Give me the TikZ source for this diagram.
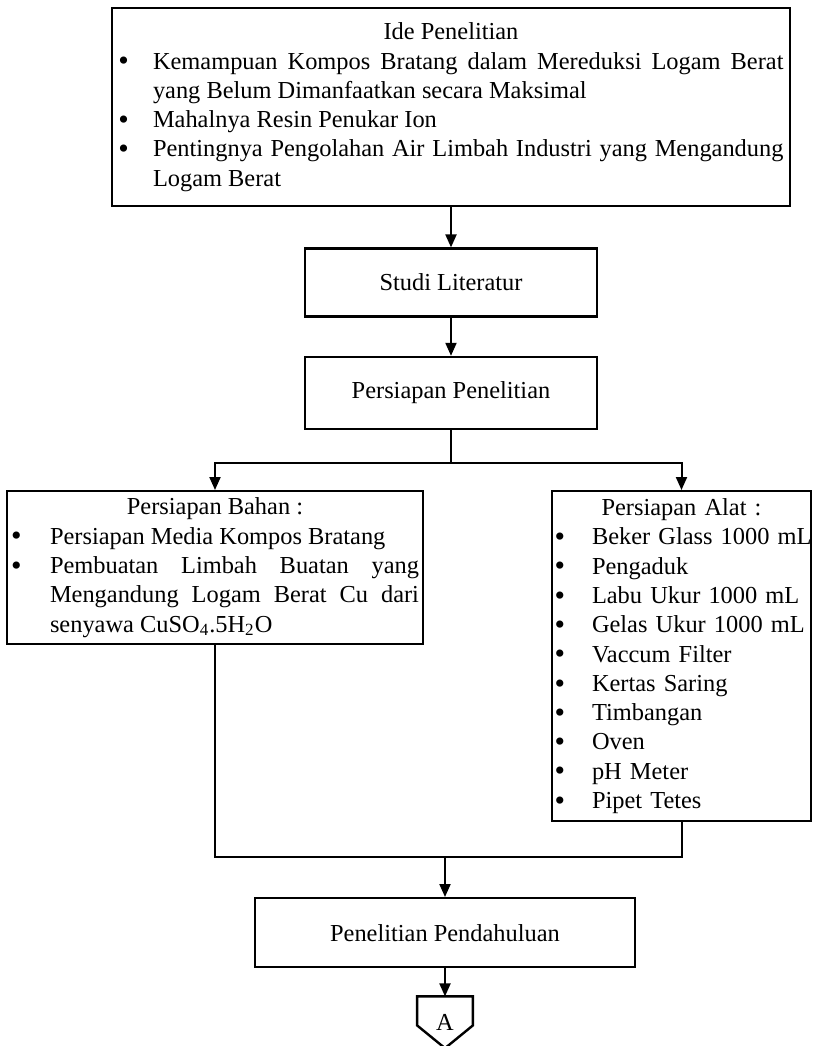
\documentclass[tikz,border=0pt]{standalone}
\usepackage{fontspec}
\setmainfont{Liberation Serif}
\usepackage{tikz}
\usetikzlibrary{positioning,arrows.meta}
\tikzstyle{box}=[draw, line width=1.2pt, font=\fontsize{12.2pt}{14.65pt}\selectfont]
\tikzstyle{conn}=[line width=1pt]
\tikzstyle{arr}=[conn, -{Triangle[length=6.5pt,width=5.5pt]}]

\setlength{\parindent}{0pt}
\hyphenpenalty=10000
\exhyphenpenalty=10000
\tolerance=9999
\newlength{\butirindent}
\newcommand{\butir}[1]{\par\noindent\hangindent=\butirindent\hangafter=1\makebox[\butirindent][l]{\raisebox{-0.15ex}{\fontsize{15pt}{15pt}\selectfont\textbullet}}#1\par}

\begin{document}
\begin{tikzpicture}[x=1pt,y=1pt]
    \useasboundingbox (0,0) rectangle (406.5,-523);

    \node[box, text width=332.5pt, inner xsep=3.25pt, minimum height=99pt, align=justify, anchor=north] (ide) at (225.5,-3.5) {%
        \setlength{\butirindent}{17.25pt}%
        {\centering Ide Penelitian\par}
        \butir{Kemampuan Kompos Bratang dalam Mereduksi Logam Berat yang Belum Dimanfaatkan secara Maksimal}
        \butir{Mahalnya Resin Penukar Ion}
        \butir{Pentingnya Pengolahan Air Limbah Industri yang Mengandung Logam Berat}};
    \node[box, minimum width=146pt, minimum height=34pt] (st) [below=20pt of ide] {Studi Literatur};
    \node[box, minimum width=146pt, minimum height=36pt] (pp) [below=19pt of st] {Persiapan Penelitian};
    \coordinate[below=16.5pt of pp] (cabang);

    \node[box, text width=204pt, inner xsep=2pt, minimum height=75pt, align=justify, anchor=north] (bh) at (107.5,-245) {%
        \setlength{\butirindent}{19.5pt}%
        {\centering Persiapan Bahan :\par}
        \butir{Persiapan Media Kompos Bratang}
        \butir{Pembuatan Limbah Buatan yang Mengandung Logam Berat Cu dari senyawa CuSO\textsubscript{4}.5H\textsubscript{2}O}};
    \node[box, text width=127pt, inner xsep=1.25pt, minimum height=165pt, align=left, anchor=north] (al) at (340.75,-245) {%
        \setlength{\butirindent}{18.75pt}%
        {\centering Persiapan Alat :\par}
        \butir{\mbox{Beker Glass 1000 mL}}
        \butir{Pengaduk}
        \butir{Labu Ukur 1000 mL}
        \butir{Gelas Ukur 1000 mL}
        \butir{Vaccum Filter}
        \butir{Kertas Saring}
        \butir{Timbangan}
        \butir{Oven}
        \butir{pH Meter}
        \butir{Pipet Tetes}};

    \coordinate (gabung) at (222.5,-428.5);
    \node[box, minimum width=190pt, minimum height=34.5pt, anchor=north] (pd) at (222.5,-448.5) {Penelitian Pendahuluan};
    \node[font=\fontsize{12.2pt}{14.65pt}\selectfont, inner sep=0pt, minimum width=27.5pt, minimum height=25.5pt] (A) [below=14pt of pd] {A};

    \draw[arr] (ide) -- (st);
    \draw[arr] (st) -- (pp);
    \draw[conn] (pp) -- (cabang);
    \draw[arr] (cabang) -| (bh);
    \draw[arr] (cabang) -| (al);
    \draw[conn] (bh) |- (gabung);
    \draw[conn] (al) |- (gabung);
    \draw[arr] (gabung) -- (pd);
    \draw[arr] (pd) -- (A);
    % off-page connector
    \draw[line width=1.2pt, line join=miter] (A.north west) -- (A.north east) -- ([yshift=-14.5pt]A.north east)
        -- (A.south) -- ([yshift=-14.5pt]A.north west) -- cycle;

\end{tikzpicture}
\end{document}
